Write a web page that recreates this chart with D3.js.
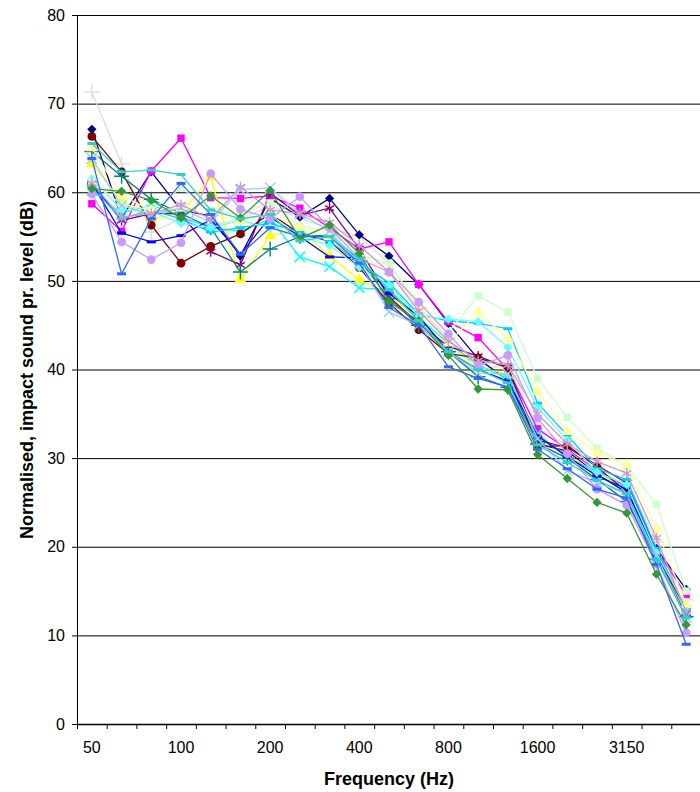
<!DOCTYPE html>
<html>
<head>
<meta charset="utf-8">
<script src="https://cdn.jsdelivr.net/npm/d3@7"></script>
<style>
  body { margin: 0; background: #fff; }
  svg { display: block; font-family: "Liberation Sans", Arial, sans-serif; }
</style>
</head>
<body>
<svg width="700" height="792"></svg>
<script>
// third-octave bands
var bands = ["50", "63", "80", "100", "125", "160", "200", "250", "315", "400", "500",
  "630", "800", "1000", "1250", "1600", "2000", "2500", "3150", "4000", "5000"];
var bandLabels = ["50", "100", "200", "400", "800", "1600", "3150"];
var yTicks = [0, 10, 20, 30, 40, 50, 60, 70, 80];

var s1 = [67.1, 57.1, 62.3, 58.0, 57.3, 52.8, 59.3, 57.2, 59.3, 55.2, 52.8, 49.6, 45.2, 41.2, 38.8, 31.6, 30.8, 28.2, 26.1, 19.8, 15.2];
var s2 = [58.7, 55.6, 62.4, 66.1, 59.4, 59.3, 59.6, 58.2, 56.0, 53.6, 54.4, 49.6, 45.4, 43.6, 40.0, 33.3, 31.0, 28.6, 26.8, 19.6, 14.6];
var s3 = [63.2, 59.0, 57.0, 57.6, 61.7, 50.2, 55.1, 55.8, 52.8, 50.1, 48.5, 45.6, 42.8, 40.2, 39.5, 32.2, 30.4, 28.3, 26.6, 19.2, 12.6];
var s4 = [60.2, 57.6, 58.6, 57.2, 56.0, 55.6, 57.0, 52.7, 51.6, 49.2, 49.0, 45.8, 43.0, 40.5, 39.0, 32.8, 30.0, 28.5, 26.6, 19.4, 12.8];
var s5 = [61.0, 56.8, 57.6, 57.6, 53.3, 51.8, 59.9, 57.4, 58.2, 53.6, 48.2, 45.2, 42.6, 41.5, 40.2, 32.0, 31.2, 29.2, 27.2, 19.6, 13.0];
var s6 = [66.3, 62.3, 56.3, 52.0, 53.9, 55.3, 57.6, 55.3, 54.5, 51.5, 47.5, 44.5, 41.8, 41.3, 40.2, 31.3, 31.4, 29.0, 26.2, 19.0, 13.0];
var s7 = [64.6, 61.8, 59.2, 57.6, 56.0, 51.0, 53.6, 55.0, 55.2, 52.4, 48.0, 45.0, 42.0, 39.2, 38.0, 31.6, 30.0, 27.6, 25.1, 18.6, 12.1];
var s8 = [61.0, 55.4, 54.4, 55.1, 56.9, 53.0, 57.2, 55.0, 52.7, 52.6, 48.6, 46.0, 42.0, 40.0, 38.7, 32.5, 30.2, 28.0, 26.5, 19.0, 12.2];
var s9 = [60.5, 57.0, 58.0, 57.0, 55.5, 56.0, 56.5, 55.5, 54.5, 52.0, 49.8, 46.2, 45.5, 45.2, 44.6, 36.2, 32.6, 28.8, 27.6, 19.8, 12.9];
var s10 = [61.5, 58.0, 57.8, 56.5, 56.0, 56.8, 56.0, 55.0, 54.0, 51.5, 49.5, 46.0, 45.7, 45.4, 42.5, 35.7, 32.0, 28.4, 27.0, 19.3, 13.2];
var s11 = [61.2, 58.6, 58.0, 60.5, 58.0, 57.5, 58.8, 56.2, 55.6, 53.0, 52.0, 47.2, 44.2, 48.3, 46.5, 39.0, 34.6, 31.1, 29.1, 24.8, 15.0];
var s12 = [65.0, 59.6, 58.0, 58.2, 57.5, 56.8, 57.5, 56.0, 55.0, 52.8, 51.2, 47.0, 43.0, 46.5, 43.5, 37.5, 33.0, 30.6, 29.2, 22.0, 13.5];
var s13 = [63.8, 58.5, 57.5, 58.2, 56.6, 60.3, 60.5, 57.6, 55.6, 52.0, 46.5, 45.0, 42.0, 39.6, 39.5, 32.2, 28.6, 27.2, 26.0, 19.0, 12.0];
var s14 = [61.0, 57.2, 57.6, 58.6, 57.0, 60.6, 58.0, 57.6, 56.6, 54.0, 51.0, 46.6, 43.2, 41.0, 40.5, 35.0, 31.6, 29.6, 28.3, 21.0, 12.6];
var s15 = [59.8, 54.4, 52.4, 54.3, 62.1, 58.1, 57.0, 59.5, 56.0, 52.5, 51.0, 47.6, 44.0, 40.4, 41.6, 34.5, 30.5, 26.5, 24.7, 18.0, 10.3];
var s16 = [71.3, 63.2, 55.5, 57.0, 56.2, 57.0, 58.5, 57.0, 56.0, 55.0, 52.0, 47.0, 43.5, 40.0, 40.5, 33.0, 31.5, 29.0, 27.5, 20.5, 14.0];
var s17 = [63.8, 50.8, 57.0, 61.0, 57.5, 53.0, 56.0, 55.0, 55.0, 52.0, 47.0, 45.0, 40.3, 39.0, 38.0, 31.0, 28.8, 26.5, 25.5, 18.0, 9.0];
var s18 = [60.4, 60.1, 59.1, 57.1, 59.6, 57.1, 60.2, 54.8, 56.3, 53.1, 47.6, 45.5, 41.6, 37.8, 37.7, 30.4, 27.7, 25.0, 23.8, 16.9, 11.2];
var s19 = [65.5, 62.3, 62.5, 62.0, 58.0, 57.0, 57.5, 54.5, 55.0, 52.5, 49.0, 45.5, 42.0, 40.0, 38.5, 31.5, 29.5, 27.5, 26.0, 18.5, 12.0];

var series = [
  { values: s16, color: "#dddddd", marker: "plus" },
  { values: s1, color: "#000080", marker: "diamond" },
  { values: s2, color: "#ff00ff", marker: "square" },
  { values: s3, color: "#ffff00", marker: "triangle" },
  { values: s4, color: "#00ffff", marker: "x" },
  { values: s5, color: "#800080", marker: "star" },
  { values: s6, color: "#800000", marker: "circle" },
  { values: s7, color: "#008080", marker: "plus" },
  { values: s8, color: "#0000ff", marker: "dash" },
  { values: s9, color: "#00ccff", marker: "dash" },
  { values: s10, color: "#66ffff", marker: "diamond" },
  { values: s11, color: "#ccffcc", marker: "square" },
  { values: s12, color: "#ffff99", marker: "triangle" },
  { values: s13, color: "#99ccff", marker: "x" },
  { values: s14, color: "#cc99cc", marker: "star" },
  { values: s15, color: "#cc99ff", marker: "circle" },
  { values: s17, color: "#3366ff", marker: "dash" },
  { values: s18, color: "#339933", marker: "diamond" },
  { values: s19, color: "#33cccc", marker: "dash" }
];

var svg = d3.select("svg"),
  margin = { top: 15, left: 77 },
  width = 624,
  height = 709;

var g = svg.append("g").attr("transform", "translate(" + margin.left + "," + margin.top + ")");

var x = d3.scaleBand().domain(bands).range([0, width]);
var xi = d3.scaleLinear().domain([0, bands.length]).range([0, width]);
var y = d3.scaleLinear().domain([0, 80]).range([height, 0]);

var font = "'Liberation Sans', Arial, sans-serif";

// gridlines
g.append("g")
  .call(d3.axisLeft(y).tickValues(yTicks.slice(1)).tickSize(-width).tickFormat(""))
  .call(function(s) { s.select(".domain").remove(); })
  .selectAll("line").attr("stroke", "#000").attr("stroke-width", 1);

// y axis
var ya = g.append("g")
  .call(d3.axisLeft(y).tickValues(yTicks).tickSize(5).tickPadding(7));
ya.attr("font-family", font).attr("font-size", 16);
ya.selectAll("text").attr("fill", "#000");
ya.select(".domain").attr("stroke", "#000");

// x axis: ticks on band boundaries, labels every third band
var xa = g.append("g").attr("transform", "translate(0," + height + ")")
  .call(d3.axisBottom(xi).tickValues(d3.range(bands.length + 1)).tickSize(5).tickFormat("").tickSizeOuter(0));
xa.select(".domain").attr("stroke", "#000").attr("stroke-width", 1.5);

var xl = g.append("g").attr("transform", "translate(0," + height + ")")
  .call(d3.axisBottom(x).tickValues(bandLabels).tickSize(0).tickPadding(18));
xl.attr("font-family", font).attr("font-size", 16);
xl.select(".domain").remove();
xl.selectAll("text").attr("fill", "#000");

function cx(i) { return x(bands[i]) + x.bandwidth() / 2; }

var line = d3.line()
  .x(function(d, i) { return cx(i); })
  .y(function(d) { return y(d); });

var sym = {
  diamond: d3.symbol().type(d3.symbolDiamond2).size(55),
  square: d3.symbol().type(d3.symbolSquare).size(55),
  triangle: d3.symbol().type(d3.symbolTriangle).size(60),
  circle: d3.symbol().type(d3.symbolCircle).size(60),
  plus: d3.symbol().type(d3.symbolPlus).size(75),
  x: d3.symbol().type(d3.symbolX).size(70),
  star: d3.symbol().type(d3.symbolAsterisk).size(75)
};

series.forEach(function(s) {
  var sg = g.append("g");
  sg.append("path")
    .datum(s.values)
    .attr("fill", "none")
    .attr("stroke", s.color)
    .attr("stroke-width", 1.3)
    .attr("d", line);

  var pts = sg.selectAll(".pt")
    .data(s.values)
    .enter();

  if (s.marker === "dash") {
    pts.append("rect")
      .attr("x", function(d, i) { return cx(i) - 4.5; })
      .attr("y", function(d) { return y(d) - 1.5; })
      .attr("width", 9)
      .attr("height", 3)
      .attr("fill", s.color);
  } else {
    var stroked = s.marker === "plus" || s.marker === "x" || s.marker === "star";
    pts.append("path")
      .attr("transform", function(d, i) { return "translate(" + cx(i) + "," + y(d) + ")"; })
      .attr("d", sym[s.marker])
      .attr("fill", stroked ? "none" : s.color)
      .attr("stroke", stroked ? s.color : "none")
      .attr("stroke-width", 1.4);
  }
});

// axis titles
svg.append("text")
  .attr("x", margin.left + 312)
  .attr("y", 785)
  .attr("text-anchor", "middle")
  .attr("font-size", 18)
  .attr("font-weight", "bold")
  .text("Frequency (Hz)");

svg.append("text")
  .attr("transform", "translate(33," + (margin.top + 355) + ") rotate(-90)")
  .attr("text-anchor", "middle")
  .attr("font-size", 18)
  .attr("font-weight", "bold")
  .text("Normalised, impact sound pr. level (dB)");
</script>
</body>
</html>
